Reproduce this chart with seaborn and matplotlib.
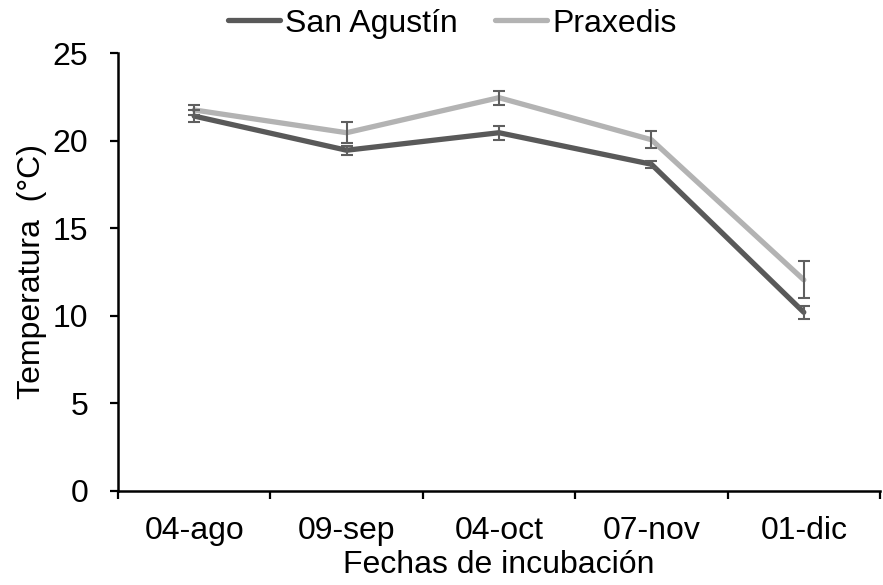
import matplotlib
matplotlib.use("Agg")
import matplotlib.pyplot as plt
import seaborn as sns
import numpy as np
import pandas as pd
from matplotlib.lines import Line2D

fechas = ["04-ago", "09-sep", "04-oct", "07-nov", "01-dic"]
san_agustin = [21.4, 19.45, 20.45, 18.65, 10.2]
san_agustin_err = [0.35, 0.25, 0.4, 0.2, 0.37]
praxedis = [21.75, 20.45, 22.45, 20.05, 12.05]
praxedis_err = [0.3, 0.6, 0.4, 0.5, 1.05]
yticks = [0, 5, 10, 15, 20, 25]

sns.set_theme(style="white", rc={
    "text.color": "black", "axes.labelcolor": "black",
    "xtick.color": "black", "ytick.color": "black",
    "axes.edgecolor": "black",
})
plt.rcParams['font.family'] = ['Liberation Sans', 'DejaVu Sans']

FS = 23
colors = {"San Agustín": "#595959", "Praxedis": "#b3b3b3"}

x = np.arange(len(fechas))
df = pd.DataFrame({
    "x": np.concatenate([x, x]),
    "temp": san_agustin + praxedis,
    "sitio": ["San Agustín"] * len(fechas) + ["Praxedis"] * len(fechas),
})

fig = plt.figure(figsize=(8.83, 5.85), dpi=100)
ax = fig.add_axes([0.1336, 0.1607, 0.8630, 0.7487])

sns.lineplot(data=df, x="x", y="temp", hue="sitio", palette=colors,
             linewidth=3.8, ax=ax, legend=False)

for vals, errs in [(san_agustin, san_agustin_err), (praxedis, praxedis_err)]:
    ax.errorbar(x, vals, yerr=errs, fmt="none", ecolor="#5f5f5f",
                elinewidth=1.5, capsize=4.5, capthick=1.5, zorder=5)

ax.set_xlim(-0.5, len(fechas) - 0.5)
ax.set_ylim(0, 25)
ax.set_yticks(yticks)
ax.set_yticklabels([str(t) for t in yticks], fontsize=FS)
ax.set_xticks(np.arange(-0.5, len(fechas)))
ax.set_xticklabels([])
ax.set_xticks(x, minor=True)
ax.set_xticklabels(fechas, minor=True, fontsize=FS)
ax.tick_params(axis="x", which="major", direction="out", length=5.5, width=1.6, bottom=True)
ax.tick_params(axis="x", which="minor", length=0, pad=18)
ax.tick_params(axis="y", direction="out", length=5.5, width=1.6, left=True, pad=16)

for s in ["top", "right"]:
    ax.spines[s].set_visible(False)
for s in ["left", "bottom"]:
    ax.spines[s].set_linewidth(1.8)

ax.set_xlabel("Fechas de incubación", fontsize=FS, labelpad=3)
ax.set_ylabel("Temperatura  (°C)", fontsize=FS, labelpad=4)

handles = [Line2D([], [], color=colors[k], linewidth=3.8) for k in ["San Agustín", "Praxedis"]]
fig.legend(handles, ["San Agustín", "Praxedis"], loc="upper center",
           bbox_to_anchor=(0.512, 0.988), ncol=2, frameon=False, fontsize=FS,
           handlelength=1.65, handletextpad=0.15, columnspacing=1.15,
           borderaxespad=0.0, borderpad=0.05)

fig.savefig("out.png", dpi=100)
